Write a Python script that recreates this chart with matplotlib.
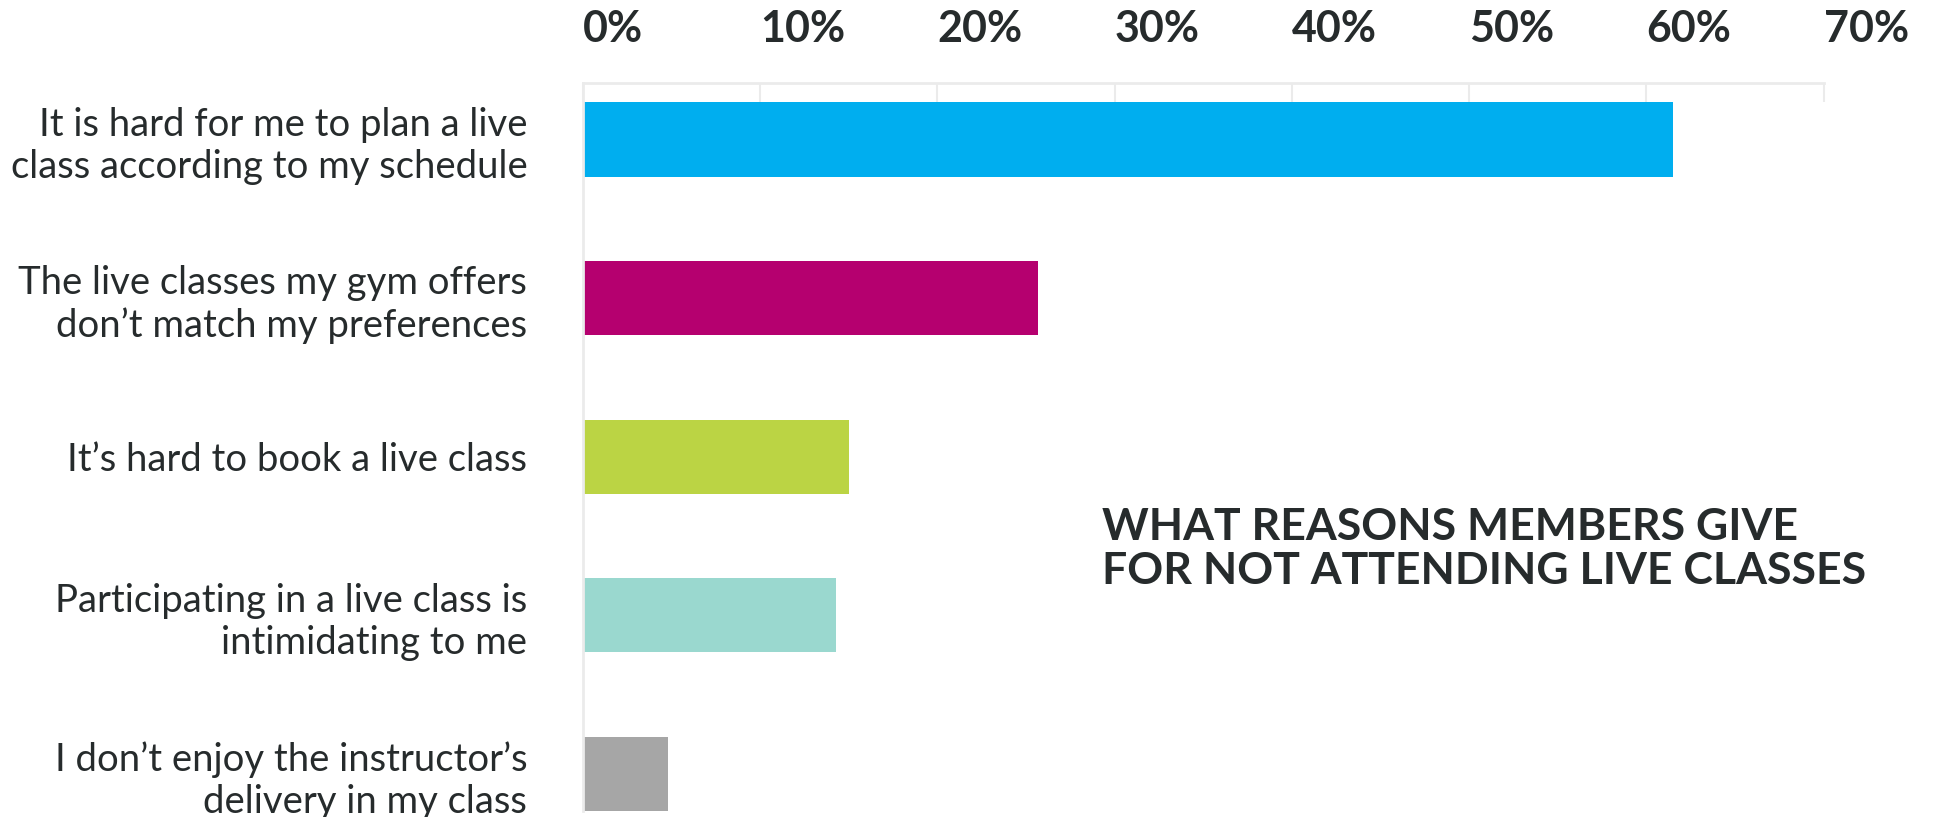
import matplotlib
matplotlib.use("Agg")
import matplotlib.pyplot as plt
from matplotlib.ticker import FuncFormatter

# data
reasons = [
    "It is hard for me to plan a live\nclass according to my schedule",
    "The live classes my gym offers\ndon\u2019t match my preferences",
    "It\u2019s hard to book a live class",
    "Participating in a live class is\nintimidating to me",
    "I don\u2019t enjoy the instructor\u2019s\ndelivery in my class",
]
shares = [61.5, 25.7, 15.0, 14.3, 4.8]
bar_colors = ["#00AEEF", "#B5006F", "#BBD444", "#9AD8CF", "#A6A6A6"]
x_ticks = [0, 10, 20, 30, 40, 50, 60, 70]
title = "WHAT REASONS MEMBERS GIVE\nFOR NOT ATTENDING LIVE CLASSES"

text_col = "#262B2C"
grid_col = "#EBEBEB"

plt.rcParams['font.family'] = ['Lato', 'DejaVu Sans']

fig = plt.figure(figsize=(19.36, 8.17), dpi=100)
ax = fig.add_axes([0.3011, 0.0073, 0.6409, 0.8915])

ypos = list(range(len(reasons)))
ax.barh(ypos, shares, height=0.467, color=bar_colors, zorder=2)

ax.set_xlim(0, 70)
ax.set_ylim(4.2335, -0.358)

# percent ticks on top, short grey ticks hanging from the top line
ax.xaxis.tick_top()
ax.set_xticks(x_ticks)
ax.xaxis.set_major_formatter(FuncFormatter(lambda v, p: "%d%%" % v))
ax.tick_params(axis="x", direction="in", length=14, width=1.5, color=grid_col,
               pad=24, labelsize=31, labelcolor=text_col)
for lab in ax.get_xticklabels():
    lab.set_fontweight("bold")
    lab.set_horizontalalignment("left")

ax.set_yticks(ypos)
ax.set_yticklabels(reasons, fontsize=27.5, color=text_col, fontweight="normal",
                   linespacing=1.22)
ax.tick_params(axis="y", length=0, pad=40)

for s in ["right", "bottom"]:
    ax.spines[s].set_visible(False)
for s in ["top", "left"]:
    ax.spines[s].set_color(grid_col)
    ax.spines[s].set_linewidth(2)

fig.text(0.5692, 0.3283, title, fontsize=32, fontweight="bold", color=text_col,
         ha="left", va="center", linespacing=1.12)

fig.savefig("out.png", dpi=100)
